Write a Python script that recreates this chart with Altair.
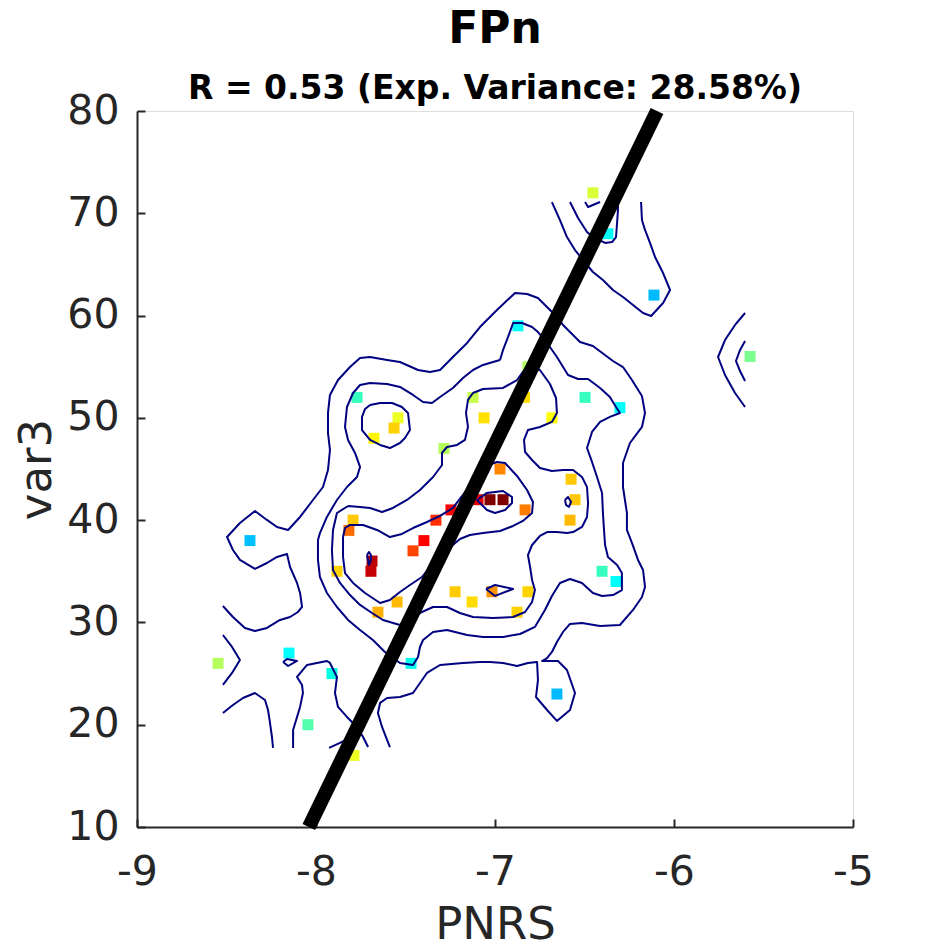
import altair as alt
import pandas as pd

# ---------------- scatter data ----------------
PNRS = [-6.453, -6.369, -6.112, -5.575, -6.872, -7.771, -7.542, -7.564, -7.676, -7.123,
        -7.061, -7.285, -6.835, -6.816, -6.497, -6.682, -6.302, -6.972, -7.028, -6.955,
        -7.095, -7.246, -6.832, -6.575, -6.553, -6.581, -6.402, -6.324, -8.369, -7.793,
        -7.816, -7.687, -7.693, -7.330, -7.397, -7.458, -7.883, -7.547, -7.654, -7.223,
        -7.128, -7.017, -6.816, -6.877, -6.654, -8.151, -8.547, -7.911, -7.469, -8.045,
        -7.788]
VAR3 = [72, 68, 62, 56, 59, 52, 50, 49, 48, 52,
        50, 47, 52, 55, 52, 50, 51, 45, 42, 42,
        42, 41, 41, 44, 42, 40, 35, 34, 38, 40,
        39, 36, 35, 40, 38, 37, 35, 32, 31, 33,
        32, 33, 33, 31, 23, 27, 26, 25, 26, 20,
        17]
# colour value on the jet colormap (0 = dark blue ... 1 = dark red)
DENSITY = [0.594, 0.39, 0.275, 0.516, 0.38, 0.465, 0.61, 0.6875, 0.635, 0.579,
           0.667, 0.565, 0.67, 0.56, 0.465, 0.625, 0.385, 0.78, 1.0, 1.0,
           0.9, 0.875, 0.79, 0.695, 0.70, 0.718, 0.465, 0.385, 0.282, 0.70,
           0.81, 0.94, 0.93, 0.86, 0.875, 0.845, 0.6875, 0.718, 0.73, 0.695,
           0.675, 0.765, 0.685, 0.6875, 0.275, 0.375, 0.5625, 0.42, 0.405, 0.485,
           0.61]

# regression line end points
FIT_X = [-8.04, -6.095]
FIT_Y = [10, 80]

X_TICKS = [-9, -8, -7, -6, -5]
Y_TICKS = [10, 20, 30, 40, 50, 60, 70, 80]

# ---------------- density contour lines (traced, data units) ----------------
L1_MAIN = [(-8.520, 31.61), (-8.464, 30.53), (-8.397, 29.46), (-8.341, 29.16), (-8.274, 29.46),
           (-8.201, 30.24), (-8.145, 30.53), (-8.101, 31.02), (-8.078, 31.51), (-8.089, 32.88),
           (-8.106, 33.86), (-8.145, 35.42), (-8.162, 36.69), (-8.218, 36.40), (-8.274, 35.81),
           (-8.341, 35.23), (-8.425, 36.11), (-8.464, 37.08), (-8.497, 38.35), (-8.425, 39.72),
           (-8.341, 40.90), (-8.274, 40.02), (-8.218, 39.33), (-8.156, 39.04), (-8.089, 40.31),
           (-8.017, 41.97), (-7.961, 43.24), (-7.933, 44.90), (-7.922, 46.86), (-7.933, 48.52),
           (-7.933, 50.48), (-7.922, 52.24), (-7.877, 53.70), (-7.810, 54.97), (-7.754, 55.85),
           (-7.698, 55.95), (-7.603, 55.66), (-7.531, 55.46), (-7.430, 54.68), (-7.363, 54.48),
           (-7.307, 54.68), (-7.235, 55.95), (-7.156, 57.32), (-7.084, 58.88), (-6.989, 60.55),
           (-6.888, 62.21), (-6.821, 62.11), (-6.760, 61.72), (-6.676, 60.25), (-6.620, 59.08),
           (-6.525, 57.42), (-6.453, 57.03), (-6.341, 55.56), (-6.285, 54.97), (-6.235, 53.70),
           (-6.179, 52.14), (-6.162, 50.48), (-6.179, 49.11), (-6.246, 47.54), (-6.285, 45.59),
           (-6.285, 43.24), (-6.263, 40.70), (-6.263, 39.04), (-6.235, 37.77), (-6.201, 36.11),
           (-6.173, 35.13), (-6.162, 33.47), (-6.179, 32.49), (-6.229, 31.22), (-6.302, 29.75),
           (-6.413, 29.65), (-6.514, 29.95), (-6.581, 29.85), (-6.620, 29.07), (-6.654, 28.09),
           (-6.682, 27.11), (-6.709, 26.52), (-6.737, 26.23), (-6.648, 26.23), (-6.598, 25.35),
           (-6.553, 23.10), (-6.581, 21.44), (-6.654, 20.37), (-6.709, 21.44), (-6.771, 22.71),
           (-6.760, 24.37), (-6.765, 26.13), (-6.816, 26.04), (-6.877, 25.74), (-6.955, 26.04),
           (-7.028, 26.13), (-7.084, 26.13), (-7.179, 26.04), (-7.307, 25.84), (-7.380, 25.06),
           (-7.458, 23.10), (-7.531, 22.71), (-7.603, 22.61), (-7.642, 22.13), (-7.654, 21.15),
           (-7.631, 19.78), (-7.603, 18.51), (-7.587, 17.82)]
L1_TOP = [(-6.682, 71.10), (-6.637, 69.34), (-6.598, 67.68), (-6.553, 66.41), (-6.508, 65.43),
          (-6.453, 64.26), (-6.397, 63.48), (-6.341, 62.50), (-6.285, 61.82), (-6.173, 60.25),
          (-6.128, 59.96), (-6.061, 61.23), (-6.022, 62.50), (-6.061, 64.16), (-6.106, 65.73),
          (-6.134, 67.10), (-6.162, 68.37), (-6.179, 69.34), (-6.184, 71.10)]
L2_TOP = [(-6.581, 71.10), (-6.536, 69.54), (-6.486, 68.17), (-6.453, 67.68), (-6.385, 67.10),
          (-6.346, 67.19), (-6.324, 67.68), (-6.318, 69.05), (-6.313, 70.32), (-6.313, 71.10)]
L3_TOP = [(-6.497, 71.10), (-6.480, 70.61), (-6.413, 71.10)]
R_OUT = [(-5.603, 60.25), (-5.659, 59.08), (-5.715, 57.61), (-5.754, 55.95), (-5.715, 54.19),
         (-5.659, 52.43), (-5.603, 51.06)]
R_IN = [(-5.603, 57.51), (-5.631, 56.64), (-5.654, 55.56), (-5.631, 54.58), (-5.603, 53.60)]
L2_MAIN = [(-6.972, 55.66), (-6.955, 56.64), (-6.927, 57.91), (-6.899, 59.27), (-6.849, 59.27),
           (-6.793, 58.88), (-6.760, 58.39), (-6.709, 57.32), (-6.654, 55.95), (-6.592, 54.19),
           (-6.536, 53.80), (-6.480, 53.80), (-6.413, 52.92), (-6.358, 52.04), (-6.324, 51.06),
           (-6.302, 50.48), (-6.358, 50.09), (-6.413, 49.60), (-6.458, 48.62), (-6.486, 47.05),
           (-6.458, 45.69), (-6.430, 44.22), (-6.402, 42.66), (-6.397, 40.70), (-6.391, 39.04),
           (-6.385, 37.57), (-6.369, 36.40), (-6.318, 35.62), (-6.291, 34.83), (-6.291, 33.17),
           (-6.341, 32.68), (-6.402, 32.59), (-6.453, 32.88), (-6.514, 33.86), (-6.581, 34.25),
           (-6.637, 33.86), (-6.682, 32.59), (-6.721, 31.22), (-6.777, 29.56), (-6.860, 28.87),
           (-6.955, 28.58), (-7.067, 28.58), (-7.156, 28.77), (-7.268, 29.26), (-7.346, 29.07),
           (-7.402, 28.28), (-7.419, 27.60), (-7.430, 26.62), (-7.458, 25.84), (-7.531, 26.04),
           (-7.575, 26.62), (-7.615, 27.11), (-7.682, 28.28), (-7.754, 29.26), (-7.821, 30.24),
           (-7.883, 31.51), (-7.939, 32.88), (-7.978, 34.44), (-7.989, 36.11), (-7.989, 38.06),
           (-7.978, 38.74), (-7.939, 40.31), (-7.883, 41.97), (-7.827, 43.24), (-7.771, 44.22),
           (-7.754, 45.20), (-7.782, 46.57), (-7.821, 47.84), (-7.838, 49.11), (-7.827, 51.06),
           (-7.793, 52.43), (-7.754, 53.21), (-7.698, 53.41), (-7.603, 53.31), (-7.531, 53.02),
           (-7.458, 52.24), (-7.402, 51.55), (-7.352, 51.45), (-7.307, 52.04), (-7.235, 52.92),
           (-7.179, 53.90), (-7.123, 54.68), (-7.067, 55.17), (-7.011, 55.46)]
L3_LEFT = [(-7.698, 51.26), (-7.642, 51.45), (-7.575, 51.45), (-7.520, 51.06), (-7.486, 50.48),
           (-7.475, 48.81), (-7.503, 48.03), (-7.531, 47.54), (-7.587, 47.05), (-7.642, 47.35),
           (-7.698, 47.84), (-7.743, 48.81), (-7.743, 50.09), (-7.726, 50.87)]
L3_MAIN = [(-7.821, 41.38), (-7.754, 41.29), (-7.698, 41.19), (-7.631, 40.80), (-7.570, 41.19),
           (-7.492, 41.97), (-7.419, 42.95), (-7.346, 44.22), (-7.296, 45.39), (-7.296, 46.57),
           (-7.268, 47.15), (-7.212, 47.35), (-7.168, 47.84), (-7.151, 49.11), (-7.162, 50.48),
           (-7.151, 51.75), (-7.123, 52.43), (-7.067, 52.82), (-6.955, 52.92), (-6.877, 53.70),
           (-6.821, 55.07), (-6.749, 54.68), (-6.693, 53.31), (-6.659, 51.94), (-6.654, 50.48),
           (-6.682, 49.60), (-6.749, 49.11), (-6.816, 48.81), (-6.838, 47.84), (-6.832, 46.66),
           (-6.793, 45.88), (-6.749, 45.10), (-6.682, 44.81), (-6.620, 44.90), (-6.564, 44.90),
           (-6.514, 44.22), (-6.486, 43.24), (-6.480, 41.68), (-6.486, 40.31), (-6.514, 39.33),
           (-6.564, 38.84), (-6.598, 38.74), (-6.654, 38.84), (-6.709, 38.84), (-6.749, 38.45),
           (-6.793, 37.57), (-6.816, 36.59), (-6.804, 35.42), (-6.793, 34.15), (-6.777, 33.17),
           (-6.793, 32.00), (-6.832, 31.02), (-6.899, 30.53), (-7.011, 30.43), (-7.123, 30.53),
           (-7.196, 30.92), (-7.268, 31.51), (-7.346, 31.51), (-7.408, 31.02), (-7.475, 30.24),
           (-7.531, 29.75), (-7.626, 30.24), (-7.687, 30.92), (-7.754, 31.71), (-7.810, 32.68),
           (-7.866, 33.86), (-7.905, 35.13), (-7.911, 37.08), (-7.905, 39.04), (-7.883, 40.70)]
L4_MAIN = [(-7.849, 38.35), (-7.838, 39.23), (-7.810, 39.53), (-7.737, 39.53), (-7.659, 39.04),
           (-7.587, 38.35), (-7.520, 38.65), (-7.458, 39.23), (-7.380, 39.82), (-7.307, 40.41),
           (-7.235, 41.19), (-7.179, 42.46), (-7.128, 43.63), (-7.067, 45.20), (-6.989, 45.69),
           (-6.944, 45.59), (-6.877, 44.32), (-6.821, 42.95), (-6.788, 41.78), (-6.793, 40.70),
           (-6.844, 39.92), (-6.899, 39.43), (-6.972, 38.94), (-7.067, 38.74), (-7.140, 38.55),
           (-7.196, 38.16), (-7.268, 37.08), (-7.346, 35.81), (-7.408, 34.44), (-7.475, 33.66),
           (-7.531, 32.98), (-7.587, 32.20), (-7.642, 31.90), (-7.726, 32.88), (-7.793, 33.86),
           (-7.838, 34.83), (-7.849, 36.40)]
L5_PEAK = [(-7.101, 41.97), (-7.045, 42.66), (-6.955, 42.85), (-6.905, 42.26), (-6.905, 41.68),
           (-6.944, 40.99), (-7.000, 40.70), (-7.045, 40.99)]
L4_SMALL_A = [(-6.609, 41.97), (-6.592, 42.26), (-6.575, 41.78), (-6.587, 41.29), (-6.603, 41.48)]
L3_SMALL_B = [(-7.050, 33.27), (-7.000, 33.66), (-6.899, 33.27), (-7.000, 32.59)]
L5_SMALL_C = [(-7.715, 36.59), (-7.704, 36.89), (-7.693, 36.59), (-7.693, 36.11), (-7.704, 35.62),
              (-7.709, 36.11)]
BL_1 = [(-8.520, 28.77), (-8.469, 27.60), (-8.425, 26.33), (-8.469, 25.06), (-8.520, 23.89)]
BL_2 = [(-8.520, 21.15), (-8.464, 21.93), (-8.408, 22.61), (-8.341, 23.10), (-8.285, 22.42),
        (-8.268, 21.44), (-8.257, 20.17), (-8.246, 18.80), (-8.240, 17.73)]
BL_3 = [(-8.128, 17.73), (-8.128, 19.49), (-8.089, 21.74), (-8.073, 23.10), (-8.078, 23.89),
        (-8.106, 24.67), (-8.050, 25.84), (-7.939, 26.23), (-7.922, 26.04), (-7.883, 24.67),
        (-7.894, 23.10), (-7.877, 21.74), (-7.827, 20.76), (-7.771, 19.78), (-7.737, 18.80),
        (-7.709, 17.82)]
BL_4 = [(-7.927, 17.73), (-7.866, 18.22), (-7.810, 18.70)]
BL_5 = [(-8.184, 26.13), (-8.162, 26.43), (-8.106, 26.23), (-8.156, 25.74)]

CONTOURS = [
    ("L1_MAIN", L1_MAIN, False), ("L1_TOP", L1_TOP, False), ("L2_TOP", L2_TOP, False),
    ("L3_TOP", L3_TOP, False), ("R_OUT", R_OUT, False), ("R_IN", R_IN, False),
    ("L2_MAIN", L2_MAIN, True), ("L3_LEFT", L3_LEFT, True), ("L3_MAIN", L3_MAIN, True),
    ("L4_MAIN", L4_MAIN, True), ("L5_PEAK", L5_PEAK, True), ("L4_SMALL_A", L4_SMALL_A, True),
    ("L3_SMALL_B", L3_SMALL_B, True), ("L5_SMALL_C", L5_SMALL_C, True),
    ("BL_1", BL_1, False), ("BL_2", BL_2, False), ("BL_3", BL_3, False),
    ("BL_4", BL_4, False), ("BL_5", BL_5, True),
]

# ---------------- tables ----------------
df_pts = pd.DataFrame({"PNRS": PNRS, "var3": VAR3, "dens": DENSITY})
rows = []
for name, pts, closed in CONTOURS:
    seq = pts + [pts[0]] if closed else pts
    for i, (cx, cy) in enumerate(seq):
        rows.append({"path": name, "i": i, "x": cx, "y": cy})
df_cont = pd.DataFrame(rows)
df_fit = pd.DataFrame({"x": FIT_X, "y": FIT_Y})

FONT = "DejaVu Sans"
INK = "#262626"
xscale = alt.Scale(domain=[-9, -5], nice=False, zero=False)
yscale = alt.Scale(domain=[10, 80], nice=False, zero=False)
jet = alt.Scale(domain=[0, 0.125, 0.375, 0.625, 0.875, 1.0],
                range=["#000080", "#0000ff", "#00ffff", "#ffff00", "#ff0000", "#800000"])
minus_fix = "(datum.value < 0 ? '-' : '') + abs(datum.value)"

points = alt.Chart(df_pts).mark_square(size=121, opacity=1, filled=True, strokeWidth=0).encode(
    x=alt.X("PNRS:Q", scale=xscale,
            axis=alt.Axis(orient="bottom", values=X_TICKS, title="PNRS", ticks=False, tickSize=0,
                          labelPadding=25, labelFontSize=41, labelFont=FONT, labelColor=INK,
                          labelFlush=False, labelExpr=minus_fix, domainColor=INK, domainWidth=2,
                          titleFontSize=45, titleFont=FONT, titleFontWeight="normal",
                          titleColor=INK, titleBaseline="alphabetic", titleY=111, grid=False)),
    y=alt.Y("var3:Q", scale=yscale,
            axis=alt.Axis(orient="left", values=Y_TICKS, title="var3", ticks=False, tickSize=0,
                          labelPadding=18, labelFontSize=41, labelFont=FONT, labelColor=INK,
                          labelFlush=False, domainColor=INK, domainWidth=2,
                          titleFontSize=45, titleFont=FONT, titleFontWeight="normal",
                          titleColor=INK, titleBaseline="alphabetic", titleX=-87, grid=False)),
    color=alt.Color("dens:Q", scale=jet, legend=None),
)

contours = alt.Chart(df_cont).mark_line(color="#000080", strokeWidth=2, strokeJoin="round").encode(
    x=alt.X("x:Q", scale=xscale,
            axis=alt.Axis(orient="top", offset=-716, values=X_TICKS, title=None, labels=False,
                          domain=False, grid=False, tickSize=8, tickWidth=2, tickColor=INK)),
    y=alt.Y("y:Q", scale=yscale,
            axis=alt.Axis(orient="right", offset=-716, values=Y_TICKS, title=None, labels=False,
                          domain=False, grid=False, tickSize=8, tickWidth=2, tickColor=INK)),
    detail="path:N",
    order="i:Q",
)

fit = alt.Chart(df_fit).mark_line(color="black", strokeWidth=14, strokeCap="butt").encode(
    x=alt.X("x:Q", scale=xscale, axis=None),
    y=alt.Y("y:Q", scale=yscale, axis=None),
)

chart = alt.layer(points, contours, fit).properties(
    width=716, height=716,
    padding={"left": 137, "top": 111, "right": 92, "bottom": 118},
    autosize=alt.AutoSizeParams(type="none"),
    title=alt.TitleParams(text="FPn", subtitle="R = 0.53 (Exp. Variance: 28.58%)",
                          fontSize=44, fontWeight="bold", color="black", font=FONT,
                          subtitleFontSize=33, subtitleFontWeight="bold", subtitleColor="black",
                          subtitleFont=FONT, anchor="middle", frame="group", offset=-23,
                          subtitlePadding=21),
).configure_view(strokeWidth=0).configure(background="white")

chart.save("out.html", embed_options={"renderer": "svg", "actions": False})
